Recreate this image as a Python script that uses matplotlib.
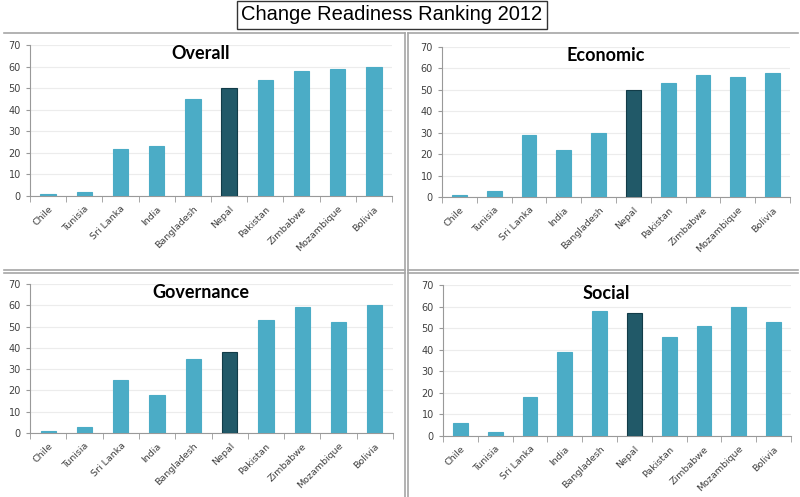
import matplotlib.pyplot as plt
from matplotlib.lines import Line2D

countries = ['Chile', 'Tunisia', 'Sri Lanka', 'India', 'Bangladesh', 'Nepal',
             'Pakistan', 'Zimbabwe', 'Mozambique', 'Bolivia']
overall = [1, 2, 22, 23, 45, 50, 54, 58, 59, 60]
economic = [1, 3, 29, 22, 30, 50, 53, 57, 56, 58]
governance = [1, 3, 25, 18, 35, 38, 53, 59, 52, 60]
social = [6, 2, 18, 39, 58, 57, 46, 51, 60, 53]
highlight = 'Nepal'

W, H = 800, 497
fig = plt.figure(figsize=(W / 100, H / 100), dpi=100)

def px_axes(x0, y0, x1, y1):
    return fig.add_axes([x0 / W, 1 - y1 / H, (x1 - x0) / W, (y1 - y0) / H])

def fig_line(xs, ys, color='#a6a6a6', lw=1.2):
    fig.add_artist(Line2D([x / W for x in xs], [1 - y / H for y in ys],
                          transform=fig.transFigure, color=color, lw=lw))

# panel frames
fig_line([4, 405], [33, 33])
fig_line([405, 405], [33, 497])
fig_line([408, 408], [33, 497])
fig_line([408, 798], [33, 33])
fig_line([4, 405], [270, 270])
fig_line([4, 405], [273, 273])
fig_line([408, 798], [270, 270])
fig_line([408, 798], [273, 273])

# main title in a box
fig.text(392 / W, 1 - 15 / H, 'Change Readiness Ranking 2012', ha='center', va='center',
         fontsize=14.5, family='Liberation Sans', color='black',
         bbox=dict(boxstyle='square,pad=0.2', fc='white', ec='#333333', lw=1))

panels = [
    ('Overall', overall, (30, 45, 392, 196)),
    ('Economic', economic, (442, 47, 790, 197)),
    ('Governance', governance, (30, 284, 393, 433)),
    ('Social', social, (443, 285, 791, 436)),
]

for title, vals, box in panels:
    ax = px_axes(*box)
    colors = ['#215968' if c == highlight else '#4bacc6' for c in countries]
    ax.bar(range(len(countries)), vals, width=0.42, color=colors,
           edgecolor=['#123c48' if c == highlight else '#4bacc6' for c in countries],
           linewidth=0.8, zorder=3)
    ax.set_xlim(-0.5, len(countries) - 0.5)
    ax.set_ylim(0, 70)
    ax.set_yticks(range(0, 71, 10))
    ax.yaxis.grid(True, color='#ececec', lw=0.8, zorder=0)
    ax.set_xticks(range(len(countries)))
    ax.set_xticklabels(countries, rotation=45, ha='right', rotation_mode='anchor',
                       fontsize=6.8, color='#404040')
    ax.set_xticks([i - 0.5 for i in range(len(countries) + 1)], minor=True)
    ax.tick_params(axis='x', which='major', length=0, pad=6)
    ax.tick_params(axis='x', which='minor', length=4, color='#999999')
    ax.tick_params(axis='y', labelsize=7, colors='#404040', length=3, color='#999999')
    for s in ['top', 'right']:
        ax.spines[s].set_visible(False)
    for s in ['left', 'bottom']:
        ax.spines[s].set_color('#999999')
    ax.text(0.47, 0.945, title, transform=ax.transAxes, ha='center', va='center',
            fontsize=13, fontweight='bold', family='Lato')

fig.savefig('out.png', dpi=100)
